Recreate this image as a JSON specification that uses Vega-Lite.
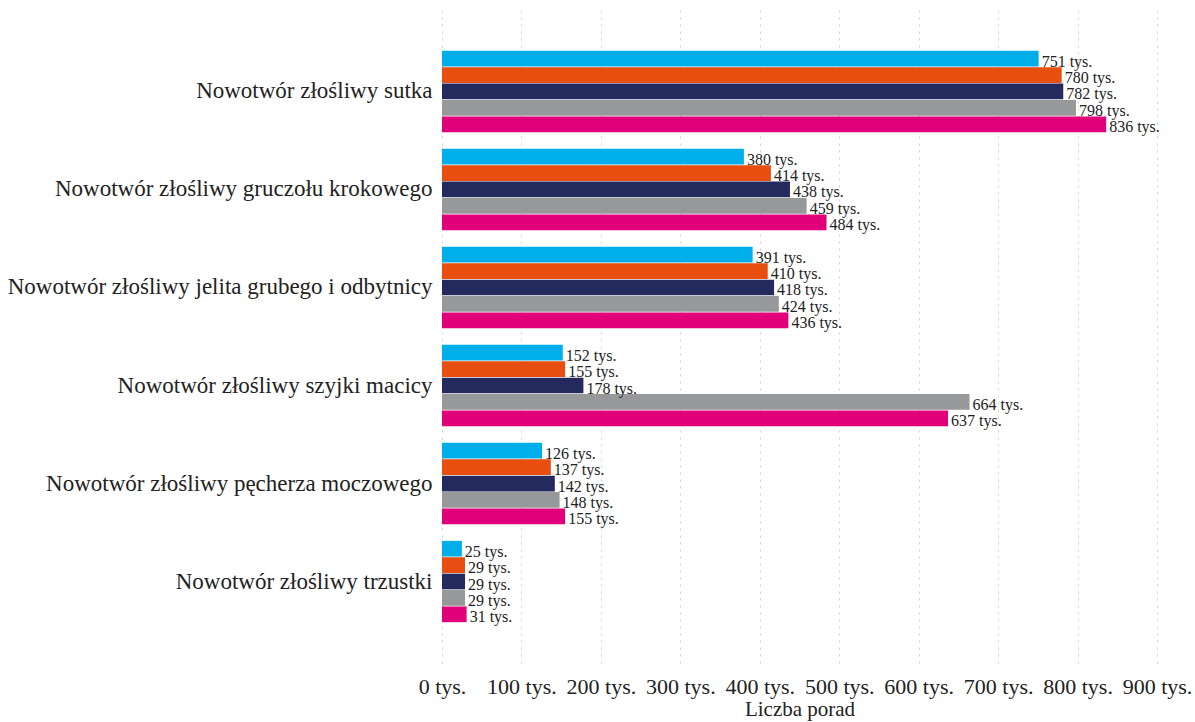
{
  "$schema": "https://vega.github.io/schema/vega-lite/v6.json",
  "autosize": "none",
  "width": 715,
  "height": 653,
  "padding": {"left": 442, "top": 10, "right": 38, "bottom": 59},
  "background": "white",
  "config": {
    "view": {"stroke": null},
    "font": "Liberation Serif",
    "axis": {"labelFont": "Liberation Serif", "titleFont": "Liberation Serif"},
    "text": {"font": "Liberation Serif"}
  },
  "data": {
    "values": [
      {"kat": "Nowotwór złośliwy sutka", "seria": "1", "v": 751},
      {"kat": "Nowotwór złośliwy sutka", "seria": "2", "v": 780},
      {"kat": "Nowotwór złośliwy sutka", "seria": "3", "v": 782},
      {"kat": "Nowotwór złośliwy sutka", "seria": "4", "v": 798},
      {"kat": "Nowotwór złośliwy sutka", "seria": "5", "v": 836},
      {"kat": "Nowotwór złośliwy gruczołu krokowego", "seria": "1", "v": 380},
      {"kat": "Nowotwór złośliwy gruczołu krokowego", "seria": "2", "v": 414},
      {"kat": "Nowotwór złośliwy gruczołu krokowego", "seria": "3", "v": 438},
      {"kat": "Nowotwór złośliwy gruczołu krokowego", "seria": "4", "v": 459},
      {"kat": "Nowotwór złośliwy gruczołu krokowego", "seria": "5", "v": 484},
      {"kat": "Nowotwór złośliwy jelita grubego i odbytnicy", "seria": "1", "v": 391},
      {"kat": "Nowotwór złośliwy jelita grubego i odbytnicy", "seria": "2", "v": 410},
      {"kat": "Nowotwór złośliwy jelita grubego i odbytnicy", "seria": "3", "v": 418},
      {"kat": "Nowotwór złośliwy jelita grubego i odbytnicy", "seria": "4", "v": 424},
      {"kat": "Nowotwór złośliwy jelita grubego i odbytnicy", "seria": "5", "v": 436},
      {"kat": "Nowotwór złośliwy szyjki macicy", "seria": "1", "v": 152},
      {"kat": "Nowotwór złośliwy szyjki macicy", "seria": "2", "v": 155},
      {"kat": "Nowotwór złośliwy szyjki macicy", "seria": "3", "v": 178},
      {"kat": "Nowotwór złośliwy szyjki macicy", "seria": "4", "v": 664},
      {"kat": "Nowotwór złośliwy szyjki macicy", "seria": "5", "v": 637},
      {"kat": "Nowotwór złośliwy pęcherza moczowego", "seria": "1", "v": 126},
      {"kat": "Nowotwór złośliwy pęcherza moczowego", "seria": "2", "v": 137},
      {"kat": "Nowotwór złośliwy pęcherza moczowego", "seria": "3", "v": 142},
      {"kat": "Nowotwór złośliwy pęcherza moczowego", "seria": "4", "v": 148},
      {"kat": "Nowotwór złośliwy pęcherza moczowego", "seria": "5", "v": 155},
      {"kat": "Nowotwór złośliwy trzustki", "seria": "1", "v": 25},
      {"kat": "Nowotwór złośliwy trzustki", "seria": "2", "v": 29},
      {"kat": "Nowotwór złośliwy trzustki", "seria": "3", "v": 29},
      {"kat": "Nowotwór złośliwy trzustki", "seria": "4", "v": 29},
      {"kat": "Nowotwór złośliwy trzustki", "seria": "5", "v": 31}
    ]
  },
  "transform": [{"calculate": "datum.v + ' tys.'", "as": "etykieta"}],
  "encoding": {
    "y": {
      "field": "kat",
      "type": "nominal",
      "sort": null,
      "scale": {"paddingInner": 0.17, "paddingOuter": 0.4165},
      "axis": {
        "title": null,
        "ticks": false,
        "domain": false,
        "grid": false,
        "labelFont": "Liberation Serif",
        "labelFontSize": 23,
        "labelColor": "#222222",
        "labelPadding": 10,
        "labelLimit": 500
      }
    },
    "yOffset": {
      "field": "seria",
      "type": "nominal",
      "sort": "ascending",
      "scale": {"paddingInner": 0.04}
    },
    "x": {
      "field": "v",
      "type": "quantitative",
      "scale": {"domain": [0, 900], "nice": false},
      "axis": {
        "title": "Liczba porad",
        "titleFont": "Liberation Serif",
        "titleFontSize": 21,
        "titleFontWeight": "normal",
        "titleColor": "#222222",
        "titlePadding": 1,
        "values": [0, 100, 200, 300, 400, 500, 600, 700, 800, 900],
        "labelExpr": "datum.value + ' tys.'",
        "labelFont": "Liberation Serif",
        "labelFontSize": 22,
        "labelColor": "#222222",
        "labelPadding": 13,
        "labelFlush": false,
        "labelOverlap": false,
        "ticks": false,
        "domain": false,
        "grid": true,
        "gridColor": "#d0d0d0",
        "gridDash": [2, 5],
        "gridWidth": 1
      }
    }
  },
  "layer": [
    {
      "mark": {"type": "bar"},
      "encoding": {
        "color": {
          "field": "seria",
          "type": "nominal",
          "scale": {
            "domain": ["1", "2", "3", "4", "5"],
            "range": ["#00AEEA", "#E84E10", "#252A5E", "#97989A", "#E2007A"]
          },
          "legend": null
        }
      }
    },
    {
      "mark": {
        "type": "text",
        "align": "left",
        "baseline": "middle",
        "dx": 3,
        "dy": 3,
        "font": "Liberation Serif",
        "fontSize": 16,
        "color": "#222222"
      },
      "encoding": {
        "text": {"field": "etykieta", "type": "nominal"}
      }
    }
  ]
}
